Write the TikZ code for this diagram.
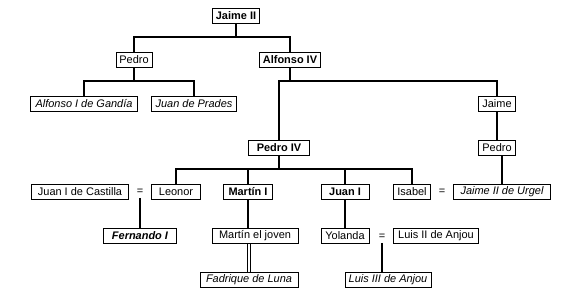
\documentclass[tikz,border=0pt]{standalone}
\usepackage{fontspec}
\setmainfont{Liberation Sans}
\usetikzlibrary{positioning}

\begin{document}
\begin{tikzpicture}[
    x=0.025cm, y=-0.025cm,
    person/.style={draw, line width=0.5pt, minimum height=0.38cm, inner sep=1pt, text centered, font=\fontsize{7.8}{9}\selectfont},
    king/.style={person, font=\fontsize{7.8}{9}\selectfont\bfseries},
    link/.style={draw, line width=1.5pt},
    wed/.style={font=\fontsize{7.8}{9}\selectfont, inner sep=2pt},
]
\useasboundingbox (0,0) rectangle (579,303);

% Bus levels
\coordinate (bus1) at (0,37);
\coordinate (bus2) at (0,81);
\coordinate (bus3) at (0,169);

% Generation 1 and 2
\node[king, minimum width=1.18cm] (jaimeII) at (236,16) {Jaime II};
\node[person, minimum width=0.9cm] (pedroA) at (134,60) {Pedro};
\node[king, minimum width=1.52cm] (alfonsoIV) at (290,60) {Alfonso IV};

% Generation 3
\node[person, minimum width=2.68cm] (gandia) at (84,104) {\itshape Alfonso I de Gandía};
\node[person, minimum width=2.12cm] (prades) at (194,104) {\itshape Juan de Prades};
\node[king, minimum width=1.52cm] (pedroIV) at (279,148) {Pedro IV};
\node[person, minimum width=0.92cm] (jaimeB) at (497,104) {Jaime};
\node[person, minimum width=0.92cm] (pedroB) at (497,148) {Pedro};

% Generation 4
\node[person, minimum width=2.42cm] (castilla) at (80,192) {Juan I de Castilla};
\node[wed] (eq1) at (140,192) {=};
\node[person, minimum width=1.22cm] (leonor) at (176,192) {Leonor};
\node[king, minimum width=1.22cm] (martinI) at (248,192) {Martín I};
\node[king, minimum width=1.2cm] (juanI) at (345,192) {Juan I};
\node[person, minimum width=0.92cm] (isabel) at (412,192) {Isabel};
\node[wed] (eq2) at (442,192) {=};
\node[person, minimum width=2.42cm] (urgel) at (502,192) {\itshape Jaime II de Urgel};

% Generation 5
\node[person, minimum width=1.82cm] (fernando) at (140,236) {\bfseries\itshape Fernando I};
\node[person, minimum width=2.15cm] (joven) at (255,236) {Martín el joven};
\node[person, minimum width=1.2cm] (yolanda) at (345,236) {Yolanda};
\node[wed] (eq3) at (382,237) {=};
\node[person, minimum width=2.12cm] (luisII) at (436,236) {Luis II de Anjou};

% Generation 6
\node[person, minimum width=2.45cm] (luna) at (249,280) {\itshape Fadrique de Luna};
\node[person, minimum width=2.15cm] (luisIII) at (388,280) {\itshape Luis III de Anjou};

% Connectors
\draw[link] (jaimeII.south) -- (jaimeII.south |- bus1);
\draw[link] (pedroA.north) |- (jaimeII.south |- bus1) -| (alfonsoIV.north);
\draw[link] (pedroA.south) -- (pedroA.south |- bus2);
\draw[link] (gandia.north) |- (pedroA.south |- bus2) -| (prades.north);
\draw[link] (alfonsoIV.south) -- (alfonsoIV.south |- bus2);
\draw[link] (pedroIV.north) |- (alfonsoIV.south |- bus2) -| (jaimeB.north);
\draw[link] (jaimeB.south) -- (pedroB.north);
\draw[link] (urgel.north) -- (urgel.north |- pedroB.south);
\draw[link] (pedroIV.south) -- (pedroIV.south |- bus3);
\draw[link] (leonor.north) |- (pedroIV.south |- bus3) -| (isabel.north);
\draw[link] (martinI.north) -- (martinI.north |- bus3);
\draw[link] (juanI.north) -- (juanI.north |- bus3);
\draw[link] (eq1.south) -- (fernando.north);
\draw[link] (martinI.south) -- (martinI.south |- joven.north);
\draw[link] (juanI.south) -- (yolanda.north);
\draw[link] (eq3.south) -- (eq3.south |- luisIII.north);
\draw[double, line width=0.5pt, double distance=1.2pt] (luna.north) -- (luna.north |- joven.south);

\end{tikzpicture}
\end{document}
